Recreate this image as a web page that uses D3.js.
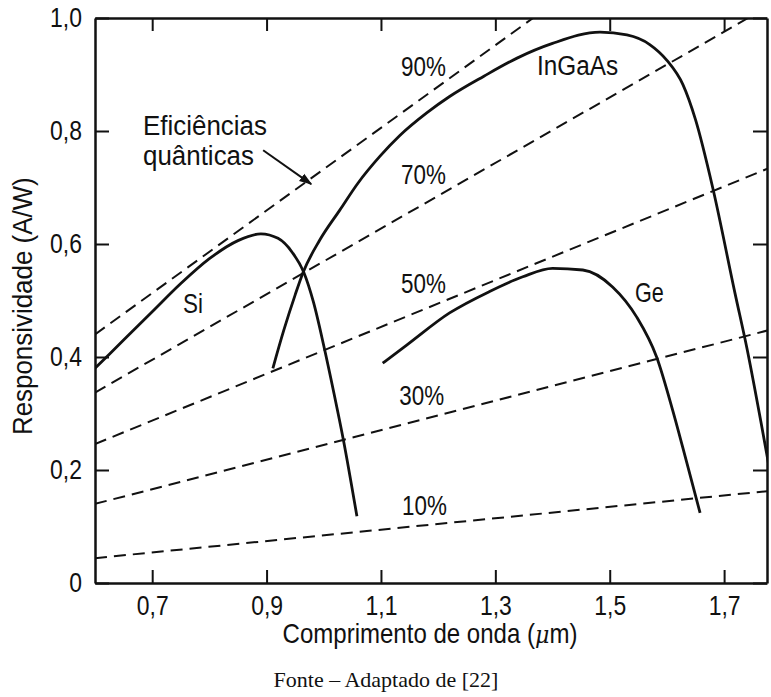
<!DOCTYPE html>
<html>
<head>
<meta charset="utf-8">
<script src="https://cdn.jsdelivr.net/npm/d3@7"></script>
<style>
  body { margin: 0; background: #fff; }
  svg { display: block; }
</style>
</head>
<body>
<svg id="chart"></svg>
<script>
const width = 771;
const height = 697;

// ticks
const xTicks = [0.7, 0.9, 1.1, 1.3, 1.5, 1.7];
const xTickLabels = ["0,7", "0,9", "1,1", "1,3", "1,5", "1,7"];
const yTicks = [0, 0.2, 0.4, 0.6, 0.8, 1.0];
const yTickLabels = ["0", "0,2", "0,4", "0,6", "0,8", "1,0"];

// quantum efficiency lines (endpoints)
const effNames = ["90%", "70%", "50%", "30%", "10%"];
const effStart = [[0.6, 0.44], [0.6, 0.337], [0.6, 0.246], [0.6, 0.14], [0.6, 0.044]];
const effEnd = [[1.366, 1.0], [1.742, 1.0], [1.78, 0.735], [1.78, 0.448], [1.78, 0.163]];
const effLabelPos = [[1.135, 0.897], [1.135, 0.706], [1.135, 0.513], [1.132, 0.315], [1.137, 0.12]];

// responsivity curves (wavelength in um, responsivity in A/W)
const curveNames = ["Si", "InGaAs", "Ge"];
const siCurve = [
  [0.6, 0.38], [0.65, 0.43], [0.7, 0.48], [0.75, 0.53], [0.8, 0.574],
  [0.85, 0.606], [0.89, 0.618], [0.92, 0.61], [0.945, 0.585], [0.965, 0.55],
  [0.982, 0.497], [1.0, 0.42], [1.018, 0.335], [1.034, 0.255], [1.058, 0.118]
];
const ingaasCurve = [
  [0.911, 0.38], [0.93, 0.447], [0.95, 0.51], [0.964, 0.55], [0.993, 0.607],
  [1.028, 0.66], [1.06, 0.708], [1.098, 0.755], [1.133, 0.792], [1.18, 0.832],
  [1.22, 0.861], [1.28, 0.897], [1.338, 0.929], [1.4, 0.955], [1.483, 0.975],
  [1.53, 0.97], [1.57, 0.953], [1.6, 0.925], [1.628, 0.882], [1.65, 0.82],
  [1.68, 0.7], [1.719, 0.513], [1.74, 0.415], [1.768, 0.265], [1.785, 0.17]
];
const geCurve = [
  [1.103, 0.389], [1.145, 0.421], [1.22, 0.478], [1.29, 0.516], [1.348, 0.542],
  [1.4, 0.557], [1.453, 0.554], [1.505, 0.524], [1.547, 0.471], [1.582, 0.4],
  [1.61, 0.306], [1.635, 0.212], [1.658, 0.124]
];
const curveLabelPos = [[0.754, 0.478], [1.373, 0.899], [1.544, 0.497]];

const x = d3.scaleLinear().domain([0.6, 1.775]).range([95, 767]);
const y = d3.scaleLinear().domain([0, 1]).range([583, 18]);

const font = "'Liberation Sans', Arial, sans-serif";
const ink = "#111";

const svg = d3.select("#chart")
  .attr("width", width)
  .attr("height", height)
  .attr("viewBox", [0, 0, width, height]);

const defs = svg.append("defs");
defs.append("clipPath").attr("id", "plotClip")
  .append("rect")
  .attr("x", x.range()[0]).attr("y", y.range()[1])
  .attr("width", x.range()[1] - x.range()[0])
  .attr("height", y.range()[0] - y.range()[1]);

defs.append("marker")
  .attr("id", "arrow")
  .attr("viewBox", "0 0 10 10")
  .attr("refX", 9).attr("refY", 5)
  .attr("markerWidth", 13).attr("markerHeight", 13)
  .attr("markerUnits", "userSpaceOnUse")
  .attr("orient", "auto")
  .append("path")
  .attr("d", "M0,1.5 L10,5 L0,8.5 z")
  .attr("fill", ink);

// text drawn narrow, like the condensed face of the original
const narrowText = (g, str, px, py, sx, anchor = "start") =>
  g.append("text")
    .attr("transform", `translate(${px},${py}) scale(${sx},1)`)
    .attr("text-anchor", anchor)
    .attr("font-family", font)
    .attr("font-size", "27px")
    .attr("fill", ink)
    .text(str);

//! axes
const styleAxis = (g) => {
  g.select(".domain").attr("stroke", ink).attr("stroke-width", 2.5);
  g.selectAll(".tick line").attr("stroke", ink).attr("stroke-width", 2);
  g.selectAll(".tick text")
    .attr("font-family", font)
    .attr("font-size", "27px")
    .attr("fill", ink);
};

svg.append("g")
  .attr("transform", `translate(0, ${y(0)})`)
  .call(d3.axisBottom(x).tickValues(xTicks)
    .tickFormat((d, i) => xTickLabels[i])
    .tickSize(-13).tickSizeOuter(0).tickPadding(13))
  .call(styleAxis)
  .call((g) => g.selectAll(".tick text").attr("transform", "scale(0.85,1)"));

svg.append("g")
  .attr("transform", `translate(0, ${y(1)})`)
  .call(d3.axisTop(x).tickValues(xTicks).tickFormat("")
    .tickSize(-13).tickSizeOuter(0))
  .call(styleAxis);

svg.append("g")
  .attr("transform", `translate(${x.range()[0]}, 0)`)
  .call(d3.axisLeft(y).tickValues(yTicks)
    .tickFormat((d, i) => yTickLabels[i])
    .tickSize(-14).tickSizeOuter(0))
  .call(styleAxis)
  .call((g) => g.selectAll(".tick text")
    .attr("x", -13 / 0.85)
    .attr("transform", "scale(0.85,1)"));

svg.append("g")
  .attr("transform", `translate(${x.range()[1]}, 0)`)
  .call(d3.axisRight(y).tickValues(yTicks).tickFormat("")
    .tickSize(-14).tickSizeOuter(0))
  .call(styleAxis);

//! efficiency lines
const plot = svg.append("g").attr("clip-path", "url(#plotClip)");
const line = d3.line().x((d) => x(d[0])).y((d) => y(d[1]));

plot.selectAll(".eff")
  .data(effNames.map((n, i) => [effStart[i], effEnd[i]]))
  .join("path")
  .attr("class", "eff")
  .attr("d", line)
  .attr("fill", "none")
  .attr("stroke", ink)
  .attr("stroke-width", 2)
  .attr("stroke-dasharray", "12,7");

//! responsivity curves
const curve = d3.line().x((d) => x(d[0])).y((d) => y(d[1])).curve(d3.curveMonotoneX);
plot.selectAll(".resp")
  .data([siCurve, ingaasCurve, geCurve])
  .join("path")
  .attr("class", "resp")
  .attr("d", curve)
  .attr("fill", "none")
  .attr("stroke", ink)
  .attr("stroke-width", 2.8)
  .attr("stroke-linejoin", "round");

//! labels
const labelGroup = svg.append("g");
effNames.forEach((n, i) => {
  narrowText(labelGroup, n, x(effLabelPos[i][0]), y(effLabelPos[i][1]), 0.83);
});
const curveScales = [0.83, 0.9, 0.8];
curveNames.forEach((n, i) => {
  narrowText(labelGroup, n, x(curveLabelPos[i][0]), y(curveLabelPos[i][1]), curveScales[i]);
});

narrowText(labelGroup, "Eficiências", x(0.684), y(0.793), 0.96);
narrowText(labelGroup, "quânticas", x(0.684), y(0.74), 0.96);

svg.append("path")
  .attr("d", `M${x(0.894)},${y(0.766)} L${x(0.978)},${y(0.706)}`)
  .attr("stroke", ink)
  .attr("stroke-width", 2)
  .attr("marker-end", "url(#arrow)");

//! axis titles
svg.append("text")
  .attr("transform", `translate(32, ${y(0.49)}) rotate(-90) scale(0.96,1)`)
  .attr("text-anchor", "middle")
  .attr("font-family", font)
  .attr("font-size", "27px")
  .attr("fill", ink)
  .text("Responsividade (A/W)");

const xt = narrowText(svg, "", 430, 643, 0.89, "middle");
xt.append("tspan").text("Comprimento de onda (");
xt.append("tspan")
  .attr("font-family", "'DejaVu Serif', serif")
  .attr("font-style", "italic")
  .attr("font-size", "25px")
  .text("μ");
xt.append("tspan").text("m)");

svg.append("text")
  .attr("x", 386)
  .attr("y", 687)
  .attr("text-anchor", "middle")
  .attr("font-family", "'Liberation Serif', 'DejaVu Serif', serif")
  .attr("font-size", "22px")
  .attr("fill", ink)
  .text("Fonte – Adaptado de [22]");
</script>
</body>
</html>
